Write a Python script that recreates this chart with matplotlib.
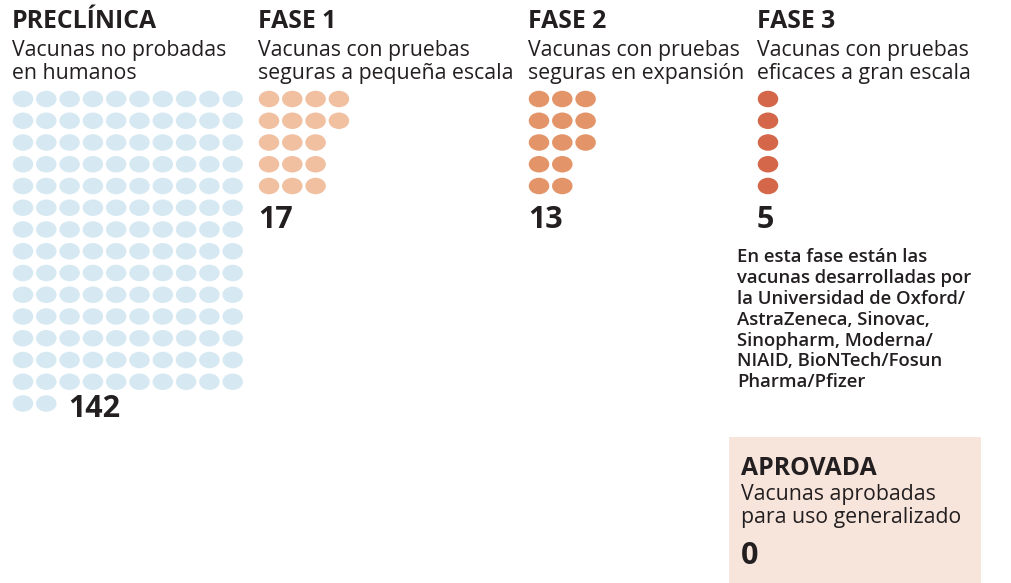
import matplotlib.pyplot as plt
from matplotlib.patches import Ellipse, Rectangle

# Data
phases = ["PRECLÍNICA", "FASE 1", "FASE 2", "FASE 3"]
subtitles = [
    ["Vacunas no probadas", "en humanos"],
    ["Vacunas con pruebas", "seguras a pequeña escala"],
    ["Vacunas con pruebas", "seguras en expansión"],
    ["Vacunas con pruebas", "eficaces a gran escala"],
]
counts = [142, 17, 13, 5]
colors = ["#d6e9f2", "#f0c0a1", "#e39569", "#d4674a"]
approved_title = "APROVADA"
approved_sub = ["Vacunas aprobadas", "para uso generalizado"]
approved_count = 0
note = ["En esta fase están las", "vacunas desarrolladas por",
        "la Universidad de Oxford/", "AstraZeneca, Sinovac,",
        "Sinopharm, Moderna/", "NIAID, BioNTech/Fosun", "Pharma/Pfizer"]

# Layout (pixels)
col_x = [12, 258, 528, 757]
# dots per row for each phase
row_shapes = [
    [10] * 14 + [2],
    [4, 4, 3, 3, 3],
    [3, 3, 3, 2, 2],
    [1, 1, 1, 1, 1],
]
dot_dx, dot_dy = 23.3, 21.75
dot_w, dot_h = 20.5, 16.5
dot_y0 = 99

txt = "#231f20"
font = "Open Sans"

fig = plt.figure(figsize=(10.12, 5.83), dpi=100)
ax = fig.add_axes([0, 0, 1, 1])
ax.set_xlim(0, 1012)
ax.set_ylim(583, 0)
ax.axis("off")

for i, name in enumerate(phases):
    x0 = col_x[i]
    ax.text(x0, 28, name, fontsize=17.8, fontweight="bold", color=txt,
            family=font, va="baseline", ha="left")
    for k, line in enumerate(subtitles[i]):
        ax.text(x0, 56 + k * 23, line, fontsize=15.3, fontweight="medium",
                color=txt, family=font, va="baseline", ha="left")
    # dots
    for r, n in enumerate(row_shapes[i]):
        for c in range(n):
            cx = x0 + 11 + c * dot_dx
            cy = dot_y0 + r * dot_dy
            ax.add_patch(Ellipse((cx, cy), dot_w, dot_h, color=colors[i], lw=0))
    # count label
    if i == 0:
        ax.text(68, 409, str(counts[i]), fontsize=22, fontweight="bold",
                color=txt, family=font, va="center", ha="left")
    else:
        ax.text(x0, 220, str(counts[i]), fontsize=22, fontweight="bold",
                color=txt, family=font, va="center", ha="left")

for k, line in enumerate(note):
    ax.text(737, 262 + k * 20.9, line, fontsize=13.3, fontweight="semibold",
            color=txt, family=font, va="baseline", ha="left")

ax.add_patch(Rectangle((729, 437), 252, 150, color="#f7e5dc", lw=0))
ax.text(741, 475, approved_title, fontsize=17.8, fontweight="bold", color=txt,
        family=font, va="baseline", ha="left")
for k, line in enumerate(approved_sub):
    ax.text(741, 500 + k * 23, line, fontsize=15.3, fontweight="medium",
            color=txt, family=font, va="baseline", ha="left")
ax.text(741, 556, str(approved_count), fontsize=22, fontweight="bold",
        color=txt, family=font, va="center", ha="left")

fig.savefig("out.png", dpi=100)
